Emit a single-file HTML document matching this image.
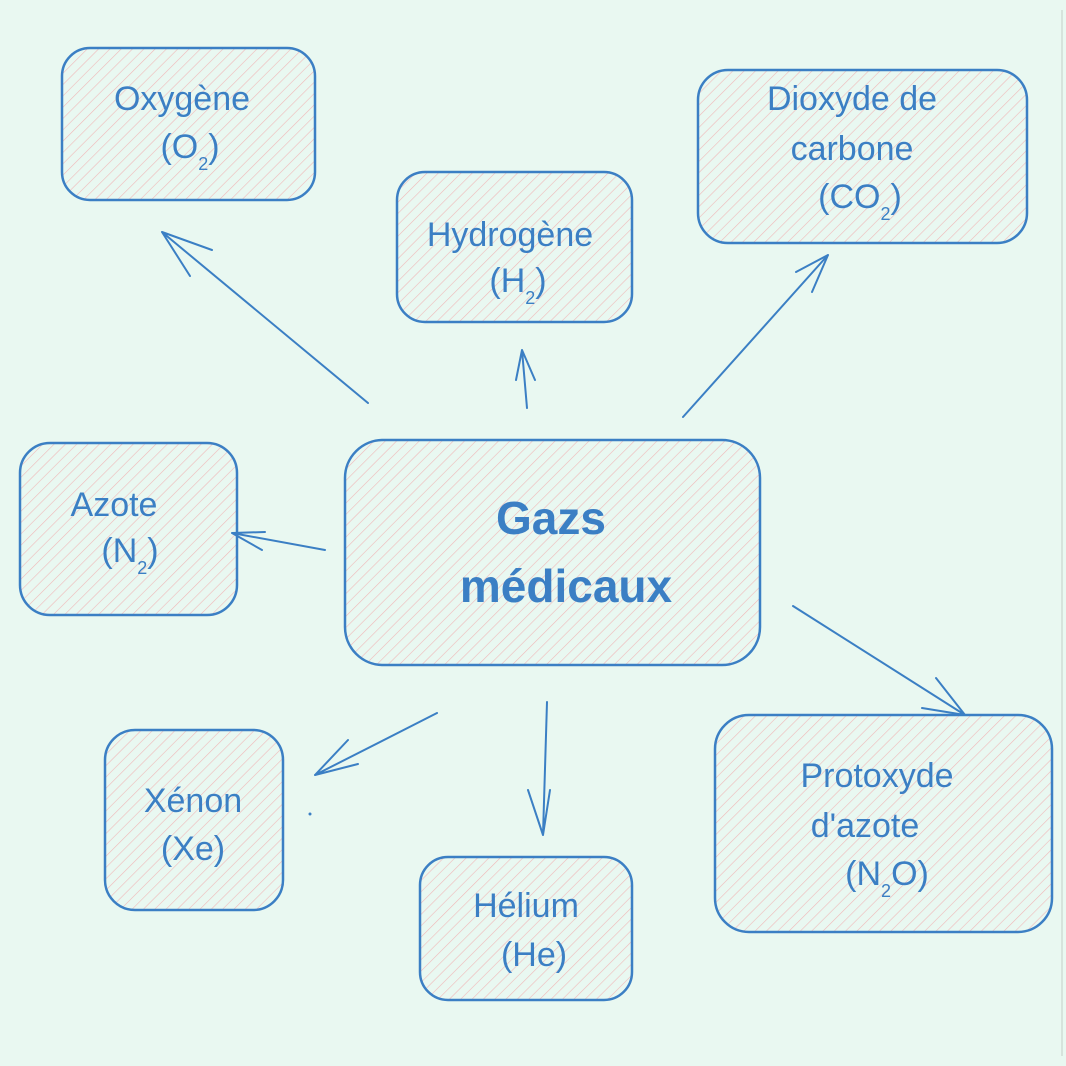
<!DOCTYPE html>
<html><head><meta charset="utf-8"><style>
html,body{margin:0;padding:0;background:#e9f8f1;}
svg{display:block}
text{font-family:"Liberation Sans",sans-serif;fill:#3b7fc4;text-anchor:middle;}
</style></head><body>
<svg width="1066" height="1066" viewBox="0 0 1066 1066" xmlns="http://www.w3.org/2000/svg">
<defs>
<pattern id="h" width="8" height="8" patternUnits="userSpaceOnUse" patternTransform="rotate(45)">
<line x1="0" y1="0" x2="0" y2="8" stroke="#f0b8b8" stroke-width="1.2"/>
</pattern>
</defs>
<rect width="1066" height="1066" fill="#e9f8f1"/>
<line x1="1062" y1="10" x2="1062" y2="1056" stroke="#d0dcd6" stroke-width="1.5"/>
<g stroke="#3b7fc4" stroke-width="2.5" fill="url(#h)">
<rect x="62" y="48" width="253" height="152" rx="28"/>
<rect x="397" y="172" width="235" height="150" rx="28"/>
<rect x="698" y="70" width="329" height="173" rx="30"/>
<rect x="20" y="443" width="217" height="172" rx="30"/>
<rect x="345" y="440" width="415" height="225" rx="38"/>
<rect x="105" y="730" width="178" height="180" rx="30"/>
<rect x="420" y="857" width="212" height="143" rx="28"/>
<rect x="715" y="715" width="337" height="217" rx="34"/>
</g>
<g stroke="#3b7fc4" stroke-width="2" fill="none" stroke-linecap="round">
<path d="M368 403 L162 232 M162 232 L190 276 M162 232 L212 250"/>
<path d="M527 408 L522 350 M522 350 L516 380 M522 350 L535 380"/>
<path d="M683 417 L828 255 M828 255 L796 272 M828 255 L812 292"/>
<path d="M325 550 L232 533 M232 533 L262 550 M232 533 L265 532"/>
<path d="M437 713 L315 775 M315 775 L348 740 M315 775 L358 764"/>
<path d="M547 702 L543 835 M543 835 L528 790 M543 835 L550 790"/>
<path d="M793 606 L965 715 M965 715 L936 678 M965 715 L922 708"/>
</g>
<g font-size="34">
<text x="182" y="110">Oxygène</text>
<text x="190" y="158">(O<tspan font-size="18" dy="12">2</tspan><tspan dy="-12">)</tspan></text>
<text x="510" y="246">Hydrogène</text>
<text x="518" y="292">(H<tspan font-size="18" dy="12">2</tspan><tspan dy="-12">)</tspan></text>
<text x="852" y="110">Dioxyde de</text>
<text x="852" y="160">carbone</text>
<text x="860" y="208">(CO<tspan font-size="18" dy="12">2</tspan><tspan dy="-12">)</tspan></text>
<text x="114" y="516">Azote</text>
<text x="130" y="562">(N<tspan font-size="18" dy="12">2</tspan><tspan dy="-12">)</tspan></text>
<text x="193" y="812">Xénon</text>
<text x="193" y="860">(Xe)</text>
<text x="526" y="917">Hélium</text>
<text x="534" y="966">(He)</text>
<text x="877" y="787">Protoxyde</text>
<text x="865" y="837">d'azote</text>
<text x="887" y="885">(N<tspan font-size="18" dy="12">2</tspan><tspan dy="-12">O)</tspan></text>
</g>
<g font-size="46" font-weight="bold">
<text x="551" y="534">Gazs</text>
<text x="566" y="602">médicaux</text>
</g>
<circle cx="310" cy="814" r="1.5" fill="#3b7fc4"/>
</svg>
</body></html>
